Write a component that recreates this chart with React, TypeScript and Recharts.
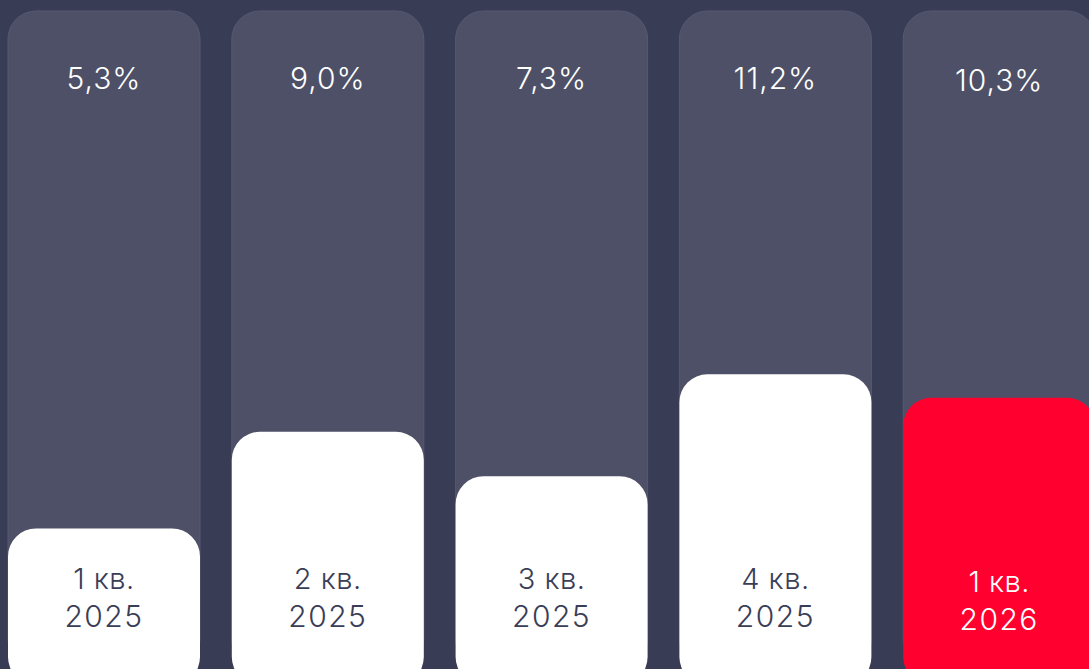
import { BarChart, Bar, XAxis, YAxis, Cell, LabelList, Rectangle } from "recharts";

// quarters / values
const quarters = ["1 кв.", "2 кв.", "3 кв.", "4 кв.", "1 кв."];
const years = ["2025", "2025", "2025", "2025", "2026"];
const growth = [5.3, 9.0, 7.3, 11.2, 10.3];

const data = quarters.map((q, i) => ({ quarter: q, year: years[i], value: growth[i] }));

const BG = "#393c55";
const TRACK = "#4d5066";
const BAR = "#ffffff";
const ACCENT = "#ff002f";
const DARK_TEXT = "#3a3d56";

const CHART_W = 1119;
const CHART_H = 700;
const TOP = 11;
const BOTTOM = 33; // plot bottom at 667
const PLOT_BOTTOM = CHART_H - BOTTOM;
const BLEED = 18; // bars run past the zero line, under the page edge
const Y_MAX = 25.1;
const LAST = growth.length - 1;

const fmt = (v: number) => v.toFixed(1).replace(".", ",") + "%";

const BarShape = (props: any) => {
   const { x, y, width, height, index } = props;
   return (
      <Rectangle
         x={x}
         y={y}
         width={width}
         height={height + BLEED}
         radius={28}
         fill={index === LAST ? ACCENT : BAR}
      />
   );
};

const ValueLabel = (props: any) => {
   const { x, width, value, index } = props;
   return (
      <text
         x={x + width / 2}
         y={TOP + 78 + (index === LAST ? 2 : 0)}
         textAnchor="middle"
         fill="#ffffff"
         fontSize={30}
         fontWeight={300}
         fontFamily="Inter"
         letterSpacing={1}
      >
         {fmt(value)}
      </text>
   );
};

const CategoryLabel = (props: any) => {
   const { x, width, index } = props;
   const cx = x + width / 2;
   const color = index === LAST ? "#ffffff" : DARK_TEXT;
   const shift = index === LAST ? 3 : 0;
   return (
      <g fill={color} fontFamily="Inter" fontWeight={300} textAnchor="middle">
         <text x={cx} y={PLOT_BOTTOM - 78 + shift} fontSize={29} letterSpacing={0.5}>{quarters[index]}</text>
         <text x={cx} y={PLOT_BOTTOM - 40 + shift} fontSize={30} letterSpacing={1.5}>{years[index]}</text>
      </g>
   );
};

export default function App() {
   return (
      <div style={{ position: "fixed", left: 0, top: 0, width: 1089, height: 669, overflow: "hidden", background: BG }}>
         <div style={{ marginLeft: -8 }}>
            <BarChart width={CHART_W} height={CHART_H} data={data} margin={{ top: TOP, right: 0, bottom: BOTTOM, left: 0 }}>
               <XAxis dataKey="quarter" hide />
               <YAxis hide domain={[0, Y_MAX]} />
               <Bar
                  dataKey="value"
                  isAnimationActive={false}
                  barSize={192}
                  shape={BarShape}
                  background={{ fill: TRACK, radius: 28, stroke: "#565971", strokeWidth: 1 }}
               >
                  {data.map((_, i) => (
                     <Cell key={i} fill={i === LAST ? ACCENT : BAR} />
                  ))}
                  <LabelList dataKey="value" content={ValueLabel} />
                  <LabelList dataKey="value" content={CategoryLabel} />
               </Bar>
            </BarChart>
         </div>
      </div>
   );
}
